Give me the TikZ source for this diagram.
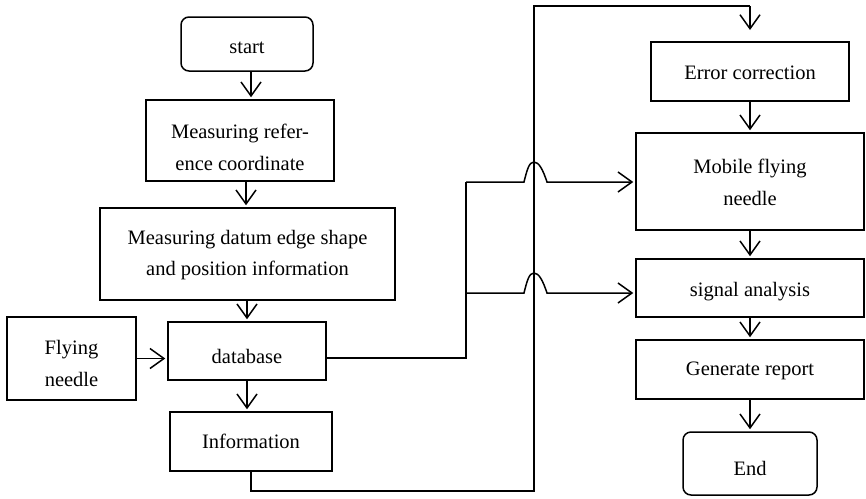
\documentclass[tikz,border=0pt]{standalone}
\usepackage{fontspec}
\setmainfont{Liberation Serif}
\usetikzlibrary{arrows.meta,calc}
\begin{document}
\begin{tikzpicture}[x=1pt,y=-1pt,
  box/.style={draw, line width=1.5pt, inner sep=0pt},
  rbox/.style={box, rounded corners=8pt},
  txt/.style={inner sep=0pt, align=center, font=\fontsize{20.5}{31.5}\selectfont},
  conn/.style={line width=1.5pt},
  arr/.style={conn, -{Straight Barb[length=14pt,width=20pt]}, shorten >=2pt},
]
\useasboundingbox (0,0) rectangle (866,498);
% left column
\node[rbox, minimum width=132, minimum height=54] (start) at (247,44) {};
\node[txt] (tstart) at ([yshift=-4]start.center) {start};
\node[box, minimum width=188, minimum height=81] (ref) at (240,140.5) {};
\node[txt] (tref) at ([yshift=-7]ref.center) {Measuring refer-\\ence coordinate};
\node[box, minimum width=295, minimum height=92] (datum) at (247.5,254) {};
\node[txt] (tdatum) at ([yshift=-1]datum.center) {Measuring datum edge shape\\and position information};
\node[box, minimum width=129, minimum height=83] (fly) at (71.5,358.5) {};
\node[txt] (tfly) at ([yshift=-5]fly.center) {Flying\\needle};
\node[box, minimum width=158, minimum height=58] (db) at (247,351) {};
\node[txt] (tdb) at ([yshift=-5]db.center) {database};
\node[box, minimum width=162, minimum height=59] (info) at (251,441.5) {};
\node[txt] (tinfo) at (info.center) {Information};
% right column
\node[box, minimum width=198, minimum height=59] (ec) at (750,71.5) {};
\node[txt] (tec) at ([yshift=-1]ec.center) {Error correction};
\node[box, minimum width=228, minimum height=97] (mob) at (750,181.5) {};
\node[txt] (tmob) at ([yshift=-1]mob.center) {Mobile flying\\needle};
\node[box, minimum width=228, minimum height=58] (sig) at (750,288) {};
\node[txt] (tsig) at ([yshift=-4]sig.center) {signal analysis};
\node[box, minimum width=228, minimum height=59] (gen) at (750,369.5) {};
\node[txt] (tgen) at ([yshift=-1]gen.center) {Generate report};
\node[rbox, minimum width=134, minimum height=63] (end) at (750,463.5) {};
\node[txt] (tend) at ([yshift=-5]end.center) {End};
% vertical arrows left
\draw[arr] ([xshift=4pt]start.south) -- ([xshift=4pt]start.south |- ref.north);
\draw[arr] ([xshift=6pt]ref.south) -- ([xshift=6pt]ref.south |- datum.north);
\draw[arr] (db.north |- datum.south) -- (db.north);
\draw[arr] (db.south) -- (db.south |- info.north);
\draw[arr] (fly.east) -- (fly.east -| db.west);
% vertical arrows right
\draw[arr] (ec.south) -- (mob.north);
\draw[arr] (mob.south) -- (sig.north);
\draw[arr] (sig.south) -- (gen.north);
\draw[arr] (gen.south) -- (end.north);
% long connector from Information to Error correction
\coordinate (bl) at (251,491);
\coordinate (br) at (534,491);
\coordinate (tl) at (534,6);
\coordinate (tr) at (750,6);
\coordinate (ectip) at (750,30);
\draw[conn] (info.south -| bl) -- (bl) -- (br) -- (tl) -- (tr);
\draw[arr, shorten >=0pt] (tr) -- (ectip);
% database branch connector with hops
\coordinate (d0) at (326,358);
\coordinate (v1) at (466,358);
\coordinate (v2) at (466,182);
\coordinate (v3) at (466,293);
\draw[conn] (d0) -- (v1) -- (v2);
\draw[arr] (v2) -- (524,182) .. controls (527,170) and (529,162) .. (534,162)
  .. controls (539,162) and (543,170) .. (547,182) -- (mob.west |- v2);
\draw[arr] (v3) -- (524,293) .. controls (527,281) and (529,273) .. (534,273)
  .. controls (539,273) and (543,281) .. (547,293) -- (sig.west |- v3);
\end{tikzpicture}
\end{document}
